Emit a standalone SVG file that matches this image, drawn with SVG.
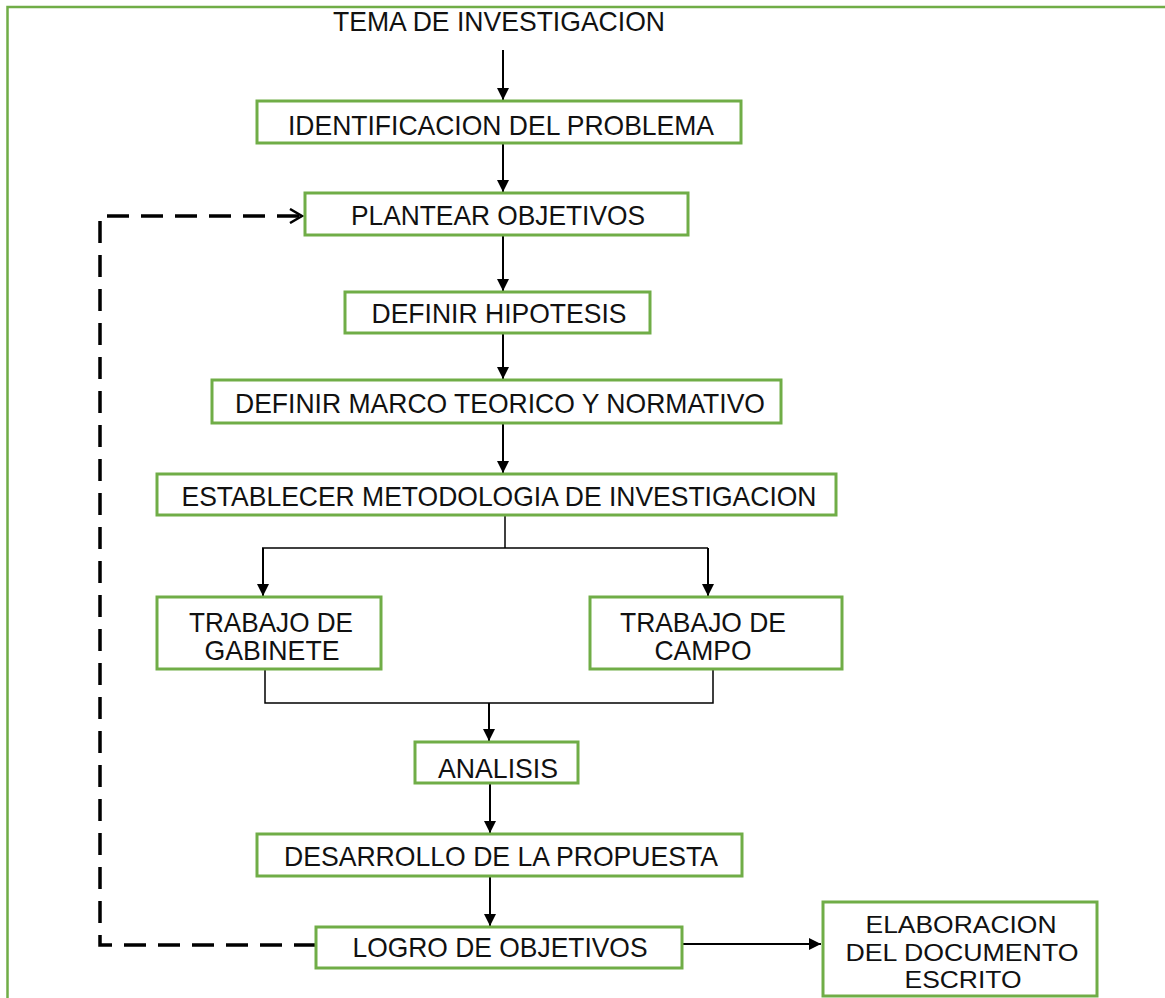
<svg xmlns="http://www.w3.org/2000/svg" width="1165" height="998" viewBox="0 0 1165 998">
<style>
.box{fill:#fff;stroke:#70AD47;stroke-width:3}
.t{font-family:"Liberation Sans",Arial,sans-serif;font-size:28px;fill:#111;text-anchor:middle}
.e{font-family:"Liberation Sans",Arial,sans-serif;font-size:24px;fill:#111;text-anchor:middle}
.c{stroke:#000;stroke-width:2;fill:none}
.d{stroke:#000;stroke-width:3.5;fill:none;stroke-dasharray:22 12}
</style>
<defs>
<marker id="ah" viewBox="0 0 12 12" refX="12" refY="6" markerWidth="12" markerHeight="12" markerUnits="userSpaceOnUse" orient="auto">
<path d="M0,0 L12,6 L0,12 Z" fill="#000"/>
</marker>
<marker id="oh" viewBox="0 0 16 16" refX="14" refY="8" markerWidth="16" markerHeight="16" markerUnits="userSpaceOnUse" orient="auto">
<path d="M2,1 L14,8 L2,15" fill="none" stroke="#000" stroke-width="2.5"/>
</marker>
</defs>
<path d="M7.5,1000 V7 H1170" fill="none" stroke="#70AD47" stroke-width="2.5"/>
<g id="connectors">
<line class="c" x1="503" y1="50" x2="503" y2="100" marker-end="url(#ah)"/>
<line class="c" x1="503" y1="143" x2="503" y2="192" marker-end="url(#ah)"/>
<line class="c" x1="503" y1="235" x2="503" y2="291" marker-end="url(#ah)"/>
<line class="c" x1="503" y1="333" x2="503" y2="379" marker-end="url(#ah)"/>
<line class="c" x1="503" y1="423" x2="503" y2="473" marker-end="url(#ah)"/>
<polyline class="c" points="505,515 505,548" style="stroke-width:1.5"/>
<line class="c" x1="262" y1="548" x2="708" y2="548" style="stroke-width:1.5"/>
<line class="c" x1="263" y1="548" x2="263" y2="596" marker-end="url(#ah)"/>
<line class="c" x1="708" y1="548" x2="708" y2="596" marker-end="url(#ah)"/>
<polyline class="c" points="265,669 265,703 713,703 713,669" style="stroke-width:1.5"/>
<line class="c" x1="489" y1="703" x2="489" y2="741" marker-end="url(#ah)"/>
<line class="c" x1="490" y1="783" x2="490" y2="833" marker-end="url(#ah)"/>
<line class="c" x1="490" y1="876" x2="490" y2="926" marker-end="url(#ah)"/>
<line class="c" x1="682" y1="944" x2="821" y2="944" marker-end="url(#ah)"/>
<polyline class="d" points="316,945 100,945 100,216 302,216" marker-end="url(#oh)"/>
</g>
<g id="n0"><text class="t" x="499" y="31" textLength="332" lengthAdjust="spacingAndGlyphs">TEMA DE INVESTIGACION</text></g>
<g id="n1"><rect class="box" x="257" y="101" width="484" height="42"/><text class="t" x="501" y="135" textLength="426" lengthAdjust="spacingAndGlyphs">IDENTIFICACION DEL PROBLEMA</text></g>
<g id="n2"><rect class="box" x="305" y="193" width="383" height="42"/><text class="t" x="498" y="225" textLength="294" lengthAdjust="spacingAndGlyphs">PLANTEAR OBJETIVOS</text></g>
<g id="n3"><rect class="box" x="345" y="292" width="305" height="41"/><text class="t" x="499" y="323" textLength="255" lengthAdjust="spacingAndGlyphs">DEFINIR HIPOTESIS</text></g>
<g id="n4"><rect class="box" x="212" y="380" width="569" height="43"/><text class="t" x="500" y="413" textLength="530" lengthAdjust="spacingAndGlyphs">DEFINIR MARCO TEORICO Y NORMATIVO</text></g>
<g id="n5"><rect class="box" x="157" y="474" width="679" height="41"/><text class="t" x="499" y="506" textLength="635" lengthAdjust="spacingAndGlyphs">ESTABLECER METODOLOGIA DE INVESTIGACION</text></g>
<g id="n6"><rect class="box" x="157" y="597" width="224" height="72"/><text class="t" x="271" y="632" textLength="164" lengthAdjust="spacingAndGlyphs">TRABAJO DE</text><text class="t" x="272" y="660" textLength="135" lengthAdjust="spacingAndGlyphs">GABINETE</text></g>
<g id="n7"><rect class="box" x="590" y="597" width="252" height="72"/><text class="t" x="703" y="632" textLength="166" lengthAdjust="spacingAndGlyphs">TRABAJO DE</text><text class="t" x="703" y="660" textLength="97" lengthAdjust="spacingAndGlyphs">CAMPO</text></g>
<g id="n8"><rect class="box" x="415" y="742" width="163" height="41"/><text class="t" x="498" y="778" textLength="120" lengthAdjust="spacingAndGlyphs">ANALISIS</text></g>
<g id="n9"><rect class="box" x="257" y="834" width="485" height="42"/><text class="t" x="501" y="866" textLength="434" lengthAdjust="spacingAndGlyphs">DESARROLLO DE LA PROPUESTA</text></g>
<g id="n10"><rect class="box" x="316" y="927" width="366" height="41"/><text class="t" x="500" y="957" textLength="295" lengthAdjust="spacingAndGlyphs">LOGRO DE OBJETIVOS</text></g>
<g id="n11"><rect class="box" x="823" y="902" width="274" height="94"/><text class="e" x="961" y="933" textLength="191" lengthAdjust="spacingAndGlyphs">ELABORACION</text><text class="e" x="962" y="961" textLength="233" lengthAdjust="spacingAndGlyphs">DEL DOCUMENTO</text><text class="e" x="963" y="988" textLength="117" lengthAdjust="spacingAndGlyphs">ESCRITO</text></g>
</svg>
